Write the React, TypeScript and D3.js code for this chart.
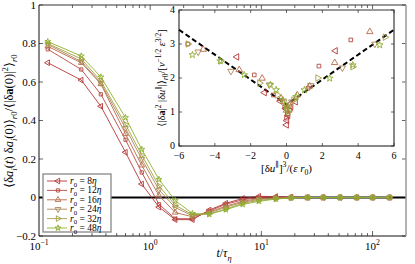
import React from "react";
import * as d3 from "d3";

// time lags t/tau_eta
const times = [0.12, 0.24, 0.36, 0.6, 0.84, 1.2, 1.68, 2.4, 3.4, 4.8, 6.8, 9.5, 13.5, 18.5, 26, 36, 51, 72, 100, 142];

const r8 = [0.7, 0.61, 0.474, 0.235, 0.07, -0.05, -0.115, -0.115, -0.065, -0.03, -0.005, 0.006, 0.005, 0.002, 0, 0, 0, 0, 0, 0];
const r12 = [0.77, 0.665, 0.536, 0.3, 0.13, -0.035, -0.11, -0.11, -0.07, -0.035, -0.012, 0, 0.002, 0, 0, 0, 0, 0, 0, 0];
const r16 = [0.785, 0.7, 0.59, 0.33, 0.167, 0.01, -0.078, -0.1, -0.075, -0.045, -0.02, -0.005, -0.002, 0, 0, 0, 0, 0, 0, 0];
const r24 = [0.795, 0.707, 0.595, 0.36, 0.2, 0.04, -0.052, -0.095, -0.08, -0.05, -0.025, -0.01, -0.004, -0.001, 0, 0, 0, 0, 0, 0];
const r32 = [0.8, 0.72, 0.605, 0.38, 0.22, 0.06, -0.04, -0.09, -0.085, -0.06, -0.03, -0.015, -0.006, -0.002, 0, 0, 0, 0, 0, 0];
const r48 = [0.81, 0.735, 0.626, 0.415, 0.25, 0.094, -0.016, -0.083, -0.087, -0.063, -0.036, -0.02, -0.008, -0.002, 0, 0, 0, 0, 0, 0];

// inset scatter: [du^3/(eps r0), <|da|^2 |du|>]
const in8 = [[-2.77, 2.62], [-1.23, 1.57], [-0.35, 1.32], [-0.05, 1.1], [0, 0.62], [0.02, 0.75], [0.08, 0.9], [0.25, 1.15], [0.5, 1.3], [2.73, 2.8]];
const in12 = [[-5.5, 3.0], [-1.8, 2.09], [-0.73, 1.5], [-0.1, 1.15], [0, 0.82], [0.05, 0.95], [0.2, 1.05], [1.2, 1.7], [1.81, 2.35], [3.59, 3.12]];
const in16 = [[-4.65, 2.84], [-2.64, 2.24], [-1.36, 1.99], [-0.3, 1.4], [0, 1.05], [0.15, 1.2], [0.6, 1.5], [1.29, 1.76], [2.69, 2.45], [4.65, 3.36]];
const in24 = [[-4.93, 2.77], [-3.1, 2.2], [-0.95, 1.8], [-0.15, 1.3], [0.05, 1.1], [0.3, 1.3], [1.35, 1.78], [3.12, 2.3], [4.93, 3.0]];
const in32 = [[-5.5, 3.0], [-3.66, 2.5], [-1.5, 1.85], [-0.5, 1.5], [0, 1.2], [0.4, 1.35], [1.74, 2.0], [3.7, 2.33], [5.5, 3.2]];
const in48 = [[-5.25, 2.68], [-3.7, 2.5], [-2.36, 2.09], [-0.9, 1.8], [-0.58, 1.65], [-0.2, 1.35], [0, 1.15], [0.1, 1.0], [0.54, 1.45], [1.0, 1.65], [2.41, 1.99], [3.7, 2.38], [5.2, 2.97]];
const fitLine = [[-6, 3.42], [0, 1.22], [6, 3.42]];

const labels = ["8", "12", "16", "24", "32", "48"];
const colors = ["#b53636", "#b6473f", "#b86a48", "#ac8656", "#a49f45", "#8cb02e"];
const shapes = ["left", "square", "up", "down", "right", "star"];
const mainSeries = [r8, r12, r16, r24, r32, r48];
const insetSeries = [in8, in12, in16, in24, in32, in48];

const yTicks = [-0.2, 0, 0.2, 0.4, 0.6, 0.8, 1];
const yTickText = ["\u22120.2", "0", "0.2", "0.4", "0.6", "0.8", "1"];
const xMajor = [0.1, 1, 10, 100];
const xMajorExp = ["\u22121", "0", "1", "2"];
const inXTicks = [-6, -4, -2, 0, 2, 4, 6];
const inYTicks = [0, 1, 2, 3, 4];

const FONT = "'Liberation Serif', 'DejaVu Serif', serif";

function markerPath(shape: string, size: number) {
  if (shape === "square") return d3.symbol(d3.symbolSquare, size * 0.75)() as string;
  if (shape === "star") return d3.symbol(d3.symbolStar, size * 0.8)() as string;
  return d3.symbol(d3.symbolTriangle, size)() as string;
}
function markerRot(shape: string) {
  if (shape === "down") return 180;
  if (shape === "left") return -90;
  if (shape === "right") return 90;
  return 0;
}

const Marker = ({ x, y, shape, color, size }: any) => (
  <path
    d={markerPath(shape, size)}
    transform={`translate(${x},${y}) rotate(${markerRot(shape)})`}
    fill="none"
    stroke={color}
    strokeWidth={0.9}
  />
);

// rich text: flags i=italic b=bold _=sub ^=sup
const Rich = ({ segs, size }: { segs: any[]; size: number }) => {
  let cur = 0;
  return (
    <>
      {segs.map(([t, f = ""]: any, k: number) => {
        const target = f.includes("_") ? size * 0.3 : f.includes("^") ? -size * 0.42 : 0;
        const dy = target - cur;
        cur = target;
        const small = f.includes("_") || f.includes("^");
        return (
          <tspan
            key={k}
            dy={dy}
            fontSize={small ? size * 0.7 : size}
            fontStyle={f.includes("i") ? "italic" : "normal"}
            fontWeight={f.includes("b") ? "bold" : "normal"}
          >
            {t}
          </tspan>
        );
      })}
    </>
  );
};

export default function App() {
  const W = 415, H = 264;
  const L = 39, R = 406, T = 5, B = 236;
  const xs = d3.scaleLog().domain([0.1, 200]).range([L, R]);
  const ys = d3.scaleLinear().domain([-0.2, 1]).range([B, T]);

  const IL = 179, IR = 394, IT = 10, IB = 146;
  const ixs = d3.scaleLinear().domain([-6, 6]).range([IL, IR]);
  const iys = d3.scaleLinear().domain([0, 4]).range([IB, IT]);

  const line = d3.line<number>().x((_, i) => xs(times[i])).y((d) => ys(d));
  const fit = d3.line<number[]>().x((d) => ixs(d[0])).y((d) => iys(d[1]));

  const minor = xs.ticks().filter((t) => t > 0.1 && t < 200);

  const legX = 43, legY = 174;

  return (
    <svg width={W} height={H} style={{ position: "absolute", left: 0, top: 0 }} fontFamily={FONT}>
      <rect width={W} height={H} fill="#fff" />

      {/* x ticks, bottom and top */}
      {minor.map((t, i) => {
        const major = xMajor.some((m) => Math.abs(m - t) < 1e-9);
        const len = major ? 5 : 3;
        return (
          <g key={i} stroke="#222" strokeWidth={0.7}>
            <line x1={xs(t)} x2={xs(t)} y1={B} y2={B - len} />
            <line x1={xs(t)} x2={xs(t)} y1={T} y2={T + len} />
          </g>
        );
      })}
      {xMajor.map((t, i) => (
        <text key={i} x={xs(t)} y={250} textAnchor="middle" fontSize={11}>
          <Rich segs={[["10"], [xMajorExp[i], "^"]]} size={11} />
        </text>
      ))}

      {/* y ticks */}
      {yTicks.map((v, i) => (
        <g key={i}>
          <line x1={L} x2={L + 4} y1={ys(v)} y2={ys(v)} stroke="#222" strokeWidth={0.7} />
          <line x1={R} x2={R - 4} y1={ys(v)} y2={ys(v)} stroke="#222" strokeWidth={0.7} />
          <text x={36} y={ys(v) + 3.8} textAnchor="end" fontSize={11}>
            {yTickText[i]}
          </text>
        </g>
      ))}

      {/* zero line */}
      <line x1={L} x2={R} y1={ys(0)} y2={ys(0)} stroke="#000" strokeWidth={2} />

      {/* series */}
      {mainSeries.map((s, si) => (
        <g key={si}>
          <path d={line(s) as string} fill="none" stroke={colors[si]} strokeWidth={0.9} />
          {s.map((v, i) => (
            <Marker key={i} x={xs(times[i])} y={ys(v)} shape={shapes[si]} color={colors[si]} size={14} />
          ))}
        </g>
      ))}

      {/* frame */}
      <line x1={L} x2={L} y1={T} y2={B} stroke="#111" strokeWidth={1} />
      <line x1={L} x2={R} y1={B} y2={B} stroke="#111" strokeWidth={1} />
      <line x1={L} x2={R} y1={T} y2={T} stroke="#333" strokeWidth={1} />
      <line x1={R} x2={R} y1={T} y2={B} stroke="#999" strokeWidth={1.5} />

      {/* axis labels */}
      <text transform={`translate(13,121) rotate(-90)`} textAnchor="middle" fontSize={12.5}>
        <Rich
          size={12.5}
          segs={[
            ["\u27e8\u03b4"], ["a", "i"], ["i", "i_"], ["("], ["t", "i"], [") \u03b4"], ["a", "i"], ["i", "i_"],
            ["(0)\u27e9"], ["r", "i_"], ["0", "_"], ["/\u27e8|\u03b4"], ["a", "b"], ["(0)|"], ["2", "^"],
            ["\u27e9"], ["r", "i_"], ["0", "_"],
          ]}
        />
      </text>
      <text x={224} y={257} textAnchor="middle" fontSize={12}>
        <Rich size={12} segs={[["t", "i"], ["/"], ["\u03c4", "i"], ["\u03b7", "i_"]]} />
      </text>

      {/* legend */}
      <rect x={legX} y={legY} width={68} height={58} fill="#fff" stroke="#888" strokeWidth={1.3} />
      {labels.map((lab, i) => {
        const y = legY + 7 + i * 9.4;
        return (
          <g key={i}>
            <line x1={legX + 4} x2={legX + 24} y1={y} y2={y} stroke={colors[i]} strokeWidth={0.9} />
            <Marker x={legX + 15} y={y} shape={shapes[i]} color={colors[i]} size={14} />
            <text x={legX + 27} y={y + 3} fontSize={9.5}>
              <Rich size={9.5} segs={[["r", "i"], ["0", "_"], [` = ${lab}`], ["\u03b7", "i"]]} />
            </text>
          </g>
        );
      })}

      {/* inset */}
      <rect x={IL} y={IT} width={IR - IL} height={IB - IT} fill="#fff" stroke="#111" strokeWidth={1} />
      <line x1={IL} x2={IR} y1={IT} y2={IT} stroke="#999" strokeWidth={2} />
      {inXTicks.map((v, i) => (
        <g key={i}>
          <line x1={ixs(v)} x2={ixs(v)} y1={IB} y2={IB - 3} stroke="#222" strokeWidth={0.7} />
          <line x1={ixs(v)} x2={ixs(v)} y1={IT} y2={IT + 3} stroke="#222" strokeWidth={0.7} />
          <text x={ixs(v)} y={159} textAnchor="middle" fontSize={10}>
            {v < 0 ? `\u2212${-v}` : `${v}`}
          </text>
        </g>
      ))}
      {inYTicks.map((v, i) => (
        <g key={i}>
          <line x1={IL} x2={IL + 3} y1={iys(v)} y2={iys(v)} stroke="#222" strokeWidth={0.7} />
          <line x1={IR} x2={IR - 3} y1={iys(v)} y2={iys(v)} stroke="#222" strokeWidth={0.7} />
          <text x={175} y={iys(v) + 2.5} textAnchor="end" fontSize={10}>
            {v}
          </text>
        </g>
      ))}
      <path d={fit(fitLine) as string} fill="none" stroke="#000" strokeWidth={2} strokeDasharray="5,3" />
      {insetSeries.map((s, si) => (
        <g key={si}>
          {s.map((d, i) => (
            <Marker key={i} x={ixs(d[0])} y={iys(d[1])} shape={shapes[si]} color={colors[si]} size={18} />
          ))}
        </g>
      ))}
      <text x={ixs(0)} y={172} textAnchor="middle" fontSize={11}>
        <Rich
          size={11}
          segs={[["[\u03b4"], ["u", "i"], ["\u2225", "^"], ["]"], ["3", "^"], ["/("], ["\u03b5", "i"], [" r", "i"], ["0", "_"], [")"]]}
        />
      </text>
      <text transform={`translate(165,78) rotate(-90)`} textAnchor="middle" fontSize={10.5}>
        <Rich
          size={10.5}
          segs={[
            ["\u27e8|\u03b4"], ["a", "b"], ["|"], ["2", "^"], [" |\u03b4"], ["u", "i"], ["\u2225", "^"], ["|\u27e9"],
            ["r", "i_"], ["0", "_"], ["/["], ["\u03bd", "i"], ["\u22121/2", "^"], [" "], ["\u03b5", "i"], ["3/2", "^"], ["]"],
          ]}
        />
      </text>
    </svg>
  );
}
